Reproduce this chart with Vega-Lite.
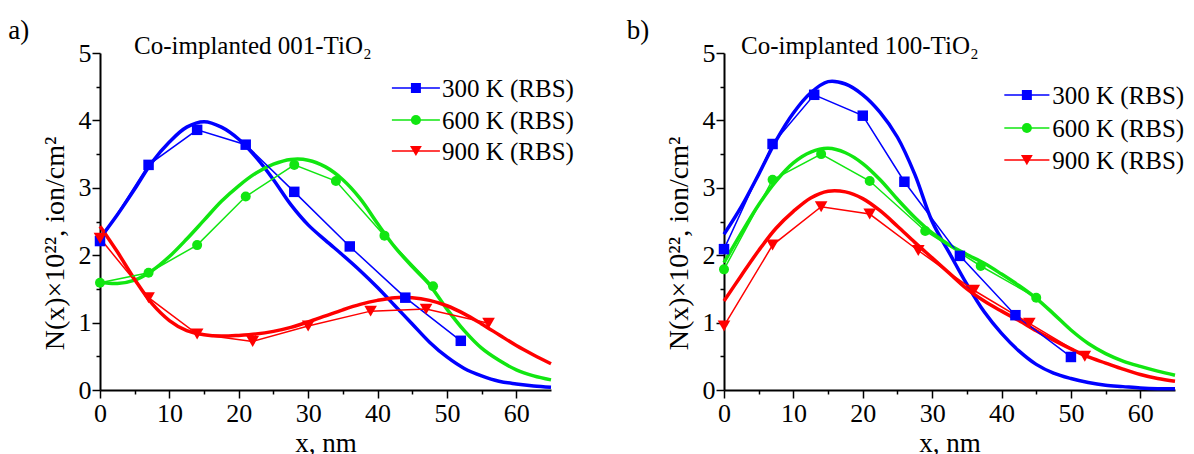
{
  "$schema": "https://vega.github.io/schema/vega-lite/v6.json",
  "autosize": {"type": "pad"},
  "padding": {"left": 8, "top": 16, "right": 0, "bottom": 0},
  "bounds": "flush",
  "spacing": 173,
  "background": "white",
  "resolve": {"scale": {"color": "independent"}},
  "config": {
    "view": {"stroke": null},
    "font": "Liberation Serif",
    "axis": {
      "grid": false,
      "domainColor": "black",
      "domainWidth": 2,
      "tickColor": "black",
      "tickWidth": 1.5,
      "labelFont": "Liberation Serif",
      "labelFontSize": 26,
      "labelColor": "black",
      "titleFont": "Liberation Serif",
      "titleFontSize": 27,
      "titleFontWeight": "normal",
      "titleColor": "black"
    }
  },
  "datasets": {
    "s300": [{"s": "300 K (RBS)"}],
    "s600": [{"s": "600 K (RBS)"}],
    "s900": [{"s": "900 K (RBS)"}],
    "ptsA": [
      {"s": "300 K (RBS)", "x": 0, "y": 2.21}, {"s": "300 K (RBS)", "x": 7, "y": 3.34}, {"s": "300 K (RBS)", "x": 14, "y": 3.86}, {"s": "300 K (RBS)", "x": 21, "y": 3.64}, {"s": "300 K (RBS)", "x": 28, "y": 2.94}, {"s": "300 K (RBS)", "x": 36, "y": 2.13}, {"s": "300 K (RBS)", "x": 44, "y": 1.37}, {"s": "300 K (RBS)", "x": 52, "y": 0.73},
      {"s": "600 K (RBS)", "x": 0, "y": 1.59}, {"s": "600 K (RBS)", "x": 7, "y": 1.74}, {"s": "600 K (RBS)", "x": 14, "y": 2.15}, {"s": "600 K (RBS)", "x": 21, "y": 2.87}, {"s": "600 K (RBS)", "x": 28, "y": 3.34}, {"s": "600 K (RBS)", "x": 34, "y": 3.1}, {"s": "600 K (RBS)", "x": 41, "y": 2.29}, {"s": "600 K (RBS)", "x": 48, "y": 1.54},
      {"s": "900 K (RBS)", "x": 0, "y": 2.25}, {"s": "900 K (RBS)", "x": 7, "y": 1.37}, {"s": "900 K (RBS)", "x": 14, "y": 0.83}, {"s": "900 K (RBS)", "x": 22, "y": 0.72}, {"s": "900 K (RBS)", "x": 30, "y": 0.95}, {"s": "900 K (RBS)", "x": 39, "y": 1.17}, {"s": "900 K (RBS)", "x": 47, "y": 1.2}, {"s": "900 K (RBS)", "x": 56, "y": 0.99}
    ],
    "fitA": [
      {"s": "300 K (RBS)", "x": 0, "y": 2.25}, {"s": "300 K (RBS)", "x": 2.5, "y": 2.6}, {"s": "300 K (RBS)", "x": 5, "y": 2.98}, {"s": "300 K (RBS)", "x": 7.5, "y": 3.38}, {"s": "300 K (RBS)", "x": 10, "y": 3.68}, {"s": "300 K (RBS)", "x": 12.5, "y": 3.9}, {"s": "300 K (RBS)", "x": 15, "y": 3.98}, {"s": "300 K (RBS)", "x": 17.5, "y": 3.9}, {"s": "300 K (RBS)", "x": 20, "y": 3.72}, {"s": "300 K (RBS)", "x": 22.5, "y": 3.45}, {"s": "300 K (RBS)", "x": 25, "y": 3.12}, {"s": "300 K (RBS)", "x": 27.5, "y": 2.75}, {"s": "300 K (RBS)", "x": 30, "y": 2.45}, {"s": "300 K (RBS)", "x": 32.5, "y": 2.22}, {"s": "300 K (RBS)", "x": 35, "y": 2.0}, {"s": "300 K (RBS)", "x": 37.5, "y": 1.77}, {"s": "300 K (RBS)", "x": 40, "y": 1.52}, {"s": "300 K (RBS)", "x": 42.5, "y": 1.25}, {"s": "300 K (RBS)", "x": 45, "y": 0.98}, {"s": "300 K (RBS)", "x": 47.5, "y": 0.71}, {"s": "300 K (RBS)", "x": 50, "y": 0.49}, {"s": "300 K (RBS)", "x": 52.5, "y": 0.32}, {"s": "300 K (RBS)", "x": 55, "y": 0.21}, {"s": "300 K (RBS)", "x": 57.5, "y": 0.13}, {"s": "300 K (RBS)", "x": 60, "y": 0.09}, {"s": "300 K (RBS)", "x": 62.5, "y": 0.06}, {"s": "300 K (RBS)", "x": 65, "y": 0.04},
      {"s": "600 K (RBS)", "x": 0, "y": 1.6}, {"s": "600 K (RBS)", "x": 2.5, "y": 1.58}, {"s": "600 K (RBS)", "x": 5, "y": 1.63}, {"s": "600 K (RBS)", "x": 7.5, "y": 1.77}, {"s": "600 K (RBS)", "x": 10, "y": 1.98}, {"s": "600 K (RBS)", "x": 12.5, "y": 2.24}, {"s": "600 K (RBS)", "x": 15, "y": 2.52}, {"s": "600 K (RBS)", "x": 17.5, "y": 2.8}, {"s": "600 K (RBS)", "x": 20, "y": 3.03}, {"s": "600 K (RBS)", "x": 22.5, "y": 3.22}, {"s": "600 K (RBS)", "x": 25, "y": 3.35}, {"s": "600 K (RBS)", "x": 27.5, "y": 3.42}, {"s": "600 K (RBS)", "x": 30, "y": 3.41}, {"s": "600 K (RBS)", "x": 32.5, "y": 3.31}, {"s": "600 K (RBS)", "x": 35, "y": 3.12}, {"s": "600 K (RBS)", "x": 37.5, "y": 2.84}, {"s": "600 K (RBS)", "x": 40, "y": 2.47}, {"s": "600 K (RBS)", "x": 42.5, "y": 2.12}, {"s": "600 K (RBS)", "x": 45, "y": 1.83}, {"s": "600 K (RBS)", "x": 47.5, "y": 1.56}, {"s": "600 K (RBS)", "x": 50, "y": 1.2}, {"s": "600 K (RBS)", "x": 52.5, "y": 0.88}, {"s": "600 K (RBS)", "x": 55, "y": 0.62}, {"s": "600 K (RBS)", "x": 57.5, "y": 0.44}, {"s": "600 K (RBS)", "x": 60, "y": 0.3}, {"s": "600 K (RBS)", "x": 62.5, "y": 0.21}, {"s": "600 K (RBS)", "x": 65, "y": 0.15},
      {"s": "900 K (RBS)", "x": 0, "y": 2.43}, {"s": "900 K (RBS)", "x": 2.5, "y": 2.05}, {"s": "900 K (RBS)", "x": 5, "y": 1.64}, {"s": "900 K (RBS)", "x": 7.5, "y": 1.28}, {"s": "900 K (RBS)", "x": 10, "y": 1.03}, {"s": "900 K (RBS)", "x": 12.5, "y": 0.88}, {"s": "900 K (RBS)", "x": 15, "y": 0.82}, {"s": "900 K (RBS)", "x": 17.5, "y": 0.8}, {"s": "900 K (RBS)", "x": 20, "y": 0.81}, {"s": "900 K (RBS)", "x": 22.5, "y": 0.83}, {"s": "900 K (RBS)", "x": 25, "y": 0.87}, {"s": "900 K (RBS)", "x": 27.5, "y": 0.93}, {"s": "900 K (RBS)", "x": 30, "y": 1.01}, {"s": "900 K (RBS)", "x": 32.5, "y": 1.1}, {"s": "900 K (RBS)", "x": 35, "y": 1.19}, {"s": "900 K (RBS)", "x": 37.5, "y": 1.27}, {"s": "900 K (RBS)", "x": 40, "y": 1.33}, {"s": "900 K (RBS)", "x": 42.5, "y": 1.37}, {"s": "900 K (RBS)", "x": 45, "y": 1.37}, {"s": "900 K (RBS)", "x": 47.5, "y": 1.33}, {"s": "900 K (RBS)", "x": 50, "y": 1.25}, {"s": "900 K (RBS)", "x": 52.5, "y": 1.13}, {"s": "900 K (RBS)", "x": 55, "y": 0.98}, {"s": "900 K (RBS)", "x": 57.5, "y": 0.82}, {"s": "900 K (RBS)", "x": 60, "y": 0.66}, {"s": "900 K (RBS)", "x": 62.5, "y": 0.52}, {"s": "900 K (RBS)", "x": 65, "y": 0.39}
    ],
    "ptsB": [
      {"s": "300 K (RBS)", "x": 0, "y": 2.09}, {"s": "300 K (RBS)", "x": 7, "y": 3.65}, {"s": "300 K (RBS)", "x": 13, "y": 4.38}, {"s": "300 K (RBS)", "x": 20, "y": 4.07}, {"s": "300 K (RBS)", "x": 26, "y": 3.09}, {"s": "300 K (RBS)", "x": 34, "y": 1.99}, {"s": "300 K (RBS)", "x": 42, "y": 1.11}, {"s": "300 K (RBS)", "x": 50, "y": 0.49},
      {"s": "600 K (RBS)", "x": 0, "y": 1.79}, {"s": "600 K (RBS)", "x": 7, "y": 3.12}, {"s": "600 K (RBS)", "x": 14, "y": 3.5}, {"s": "600 K (RBS)", "x": 21, "y": 3.1}, {"s": "600 K (RBS)", "x": 29, "y": 2.36}, {"s": "600 K (RBS)", "x": 37, "y": 1.84}, {"s": "600 K (RBS)", "x": 45, "y": 1.37},
      {"s": "900 K (RBS)", "x": 0, "y": 0.95}, {"s": "900 K (RBS)", "x": 7, "y": 2.15}, {"s": "900 K (RBS)", "x": 14, "y": 2.72}, {"s": "900 K (RBS)", "x": 21, "y": 2.61}, {"s": "900 K (RBS)", "x": 28, "y": 2.07}, {"s": "900 K (RBS)", "x": 36, "y": 1.48}, {"s": "900 K (RBS)", "x": 44, "y": 0.99}, {"s": "900 K (RBS)", "x": 52, "y": 0.5}
    ],
    "fitB": [
      {"s": "300 K (RBS)", "x": 0, "y": 2.31}, {"s": "300 K (RBS)", "x": 2.5, "y": 2.72}, {"s": "300 K (RBS)", "x": 5, "y": 3.2}, {"s": "300 K (RBS)", "x": 7.5, "y": 3.7}, {"s": "300 K (RBS)", "x": 10, "y": 4.11}, {"s": "300 K (RBS)", "x": 12.5, "y": 4.41}, {"s": "300 K (RBS)", "x": 15, "y": 4.575}, {"s": "300 K (RBS)", "x": 17.5, "y": 4.54}, {"s": "300 K (RBS)", "x": 20, "y": 4.38}, {"s": "300 K (RBS)", "x": 22.5, "y": 4.12}, {"s": "300 K (RBS)", "x": 25, "y": 3.75}, {"s": "300 K (RBS)", "x": 27.5, "y": 3.2}, {"s": "300 K (RBS)", "x": 30, "y": 2.5}, {"s": "300 K (RBS)", "x": 32.5, "y": 2.03}, {"s": "300 K (RBS)", "x": 35, "y": 1.57}, {"s": "300 K (RBS)", "x": 37.5, "y": 1.16}, {"s": "300 K (RBS)", "x": 40, "y": 0.84}, {"s": "300 K (RBS)", "x": 42.5, "y": 0.58}, {"s": "300 K (RBS)", "x": 45, "y": 0.38}, {"s": "300 K (RBS)", "x": 47.5, "y": 0.25}, {"s": "300 K (RBS)", "x": 50, "y": 0.17}, {"s": "300 K (RBS)", "x": 52.5, "y": 0.11}, {"s": "300 K (RBS)", "x": 55, "y": 0.07}, {"s": "300 K (RBS)", "x": 57.5, "y": 0.05}, {"s": "300 K (RBS)", "x": 60, "y": 0.03}, {"s": "300 K (RBS)", "x": 62.5, "y": 0.02}, {"s": "300 K (RBS)", "x": 65, "y": 0.02},
      {"s": "600 K (RBS)", "x": 0, "y": 1.89}, {"s": "600 K (RBS)", "x": 2.5, "y": 2.33}, {"s": "600 K (RBS)", "x": 5, "y": 2.75}, {"s": "600 K (RBS)", "x": 7.5, "y": 3.1}, {"s": "600 K (RBS)", "x": 10, "y": 3.37}, {"s": "600 K (RBS)", "x": 12.5, "y": 3.53}, {"s": "600 K (RBS)", "x": 15, "y": 3.585}, {"s": "600 K (RBS)", "x": 17.5, "y": 3.52}, {"s": "600 K (RBS)", "x": 20, "y": 3.36}, {"s": "600 K (RBS)", "x": 22.5, "y": 3.12}, {"s": "600 K (RBS)", "x": 25, "y": 2.83}, {"s": "600 K (RBS)", "x": 27.5, "y": 2.56}, {"s": "600 K (RBS)", "x": 30, "y": 2.33}, {"s": "600 K (RBS)", "x": 32.5, "y": 2.15}, {"s": "600 K (RBS)", "x": 35, "y": 2.01}, {"s": "600 K (RBS)", "x": 37.5, "y": 1.88}, {"s": "600 K (RBS)", "x": 40, "y": 1.72}, {"s": "600 K (RBS)", "x": 42.5, "y": 1.55}, {"s": "600 K (RBS)", "x": 45, "y": 1.36}, {"s": "600 K (RBS)", "x": 47.5, "y": 1.13}, {"s": "600 K (RBS)", "x": 50, "y": 0.89}, {"s": "600 K (RBS)", "x": 52.5, "y": 0.69}, {"s": "600 K (RBS)", "x": 55, "y": 0.54}, {"s": "600 K (RBS)", "x": 57.5, "y": 0.43}, {"s": "600 K (RBS)", "x": 60, "y": 0.35}, {"s": "600 K (RBS)", "x": 62.5, "y": 0.28}, {"s": "600 K (RBS)", "x": 65, "y": 0.22},
      {"s": "900 K (RBS)", "x": 0, "y": 1.32}, {"s": "900 K (RBS)", "x": 2.5, "y": 1.7}, {"s": "900 K (RBS)", "x": 5, "y": 2.07}, {"s": "900 K (RBS)", "x": 7.5, "y": 2.4}, {"s": "900 K (RBS)", "x": 10, "y": 2.65}, {"s": "900 K (RBS)", "x": 12.5, "y": 2.85}, {"s": "900 K (RBS)", "x": 15, "y": 2.95}, {"s": "900 K (RBS)", "x": 17.5, "y": 2.94}, {"s": "900 K (RBS)", "x": 20, "y": 2.84}, {"s": "900 K (RBS)", "x": 22.5, "y": 2.66}, {"s": "900 K (RBS)", "x": 25, "y": 2.43}, {"s": "900 K (RBS)", "x": 27.5, "y": 2.19}, {"s": "900 K (RBS)", "x": 30, "y": 1.96}, {"s": "900 K (RBS)", "x": 32.5, "y": 1.73}, {"s": "900 K (RBS)", "x": 35, "y": 1.5}, {"s": "900 K (RBS)", "x": 37.5, "y": 1.32}, {"s": "900 K (RBS)", "x": 40, "y": 1.17}, {"s": "900 K (RBS)", "x": 42.5, "y": 1.03}, {"s": "900 K (RBS)", "x": 45, "y": 0.88}, {"s": "900 K (RBS)", "x": 47.5, "y": 0.74}, {"s": "900 K (RBS)", "x": 50, "y": 0.61}, {"s": "900 K (RBS)", "x": 52.5, "y": 0.49}, {"s": "900 K (RBS)", "x": 55, "y": 0.4}, {"s": "900 K (RBS)", "x": 57.5, "y": 0.31}, {"s": "900 K (RBS)", "x": 60, "y": 0.23}, {"s": "900 K (RBS)", "x": 62.5, "y": 0.17}, {"s": "900 K (RBS)", "x": 65, "y": 0.13}
    ]
  },
  "hconcat": [
    {
      "width": 451,
      "height": 337,
      "resolve": {"axis": {"x": "independent", "y": "independent"}},
      "layer": [
        {
          "data": {"name": "fitA"},
          "mark": {"type": "line", "strokeWidth": 3.5, "interpolate": "catmull-rom"},
          "encoding": {
            "x": {"field": "x", "type": "quantitative", "scale": {"domain": [0, 65], "nice": false, "zero": false},
                  "axis": {"orient": "bottom", "values": [0, 10, 20, 30, 40, 50, 60], "tickSize": 8, "labelFlush": false, "labelPadding": 2, "title": "x, nm", "titlePadding": 4}},
            "y": {"field": "y", "type": "quantitative", "scale": {"domain": [0, 5], "nice": false},
                  "axis": {"orient": "left", "values": [0, 1, 2, 3, 4, 5], "tickSize": 8, "labelPadding": 1, "title": "N(x)×10²², ion/cm²", "titleFontSize": 28, "titlePadding": 9, "titleY": 190}},
            "color": {"field": "s", "type": "nominal", "scale": {"domain": ["300 K (RBS)", "600 K (RBS)", "900 K (RBS)"], "range": ["#0000ff", "#11e611", "#ff0000"]}, "legend": null}
          }
        },
        {
          "data": {"name": "ptsA"},
          "mark": {"type": "line", "strokeWidth": 1.5},
          "encoding": {
            "x": {"field": "x", "type": "quantitative", "axis": null},
            "y": {"field": "y", "type": "quantitative", "axis": null},
            "color": {"field": "s", "type": "nominal", "legend": null}
          }
        },
        {
          "data": {"name": "ptsA"},
          "transform": [{"filter": "datum.s === '300 K (RBS)'"}],
          "mark": {"type": "point", "shape": "square", "filled": true, "size": 110, "opacity": 1},
          "encoding": {
            "x": {"field": "x", "type": "quantitative", "axis": null},
            "y": {"field": "y", "type": "quantitative", "axis": null},
            "color": {"field": "s", "type": "nominal", "legend": null}
          }
        },
        {
          "data": {"name": "ptsA"},
          "transform": [{"filter": "datum.s === '600 K (RBS)'"}],
          "mark": {"type": "point", "shape": "circle", "filled": true, "size": 100, "opacity": 1},
          "encoding": {
            "x": {"field": "x", "type": "quantitative", "axis": null},
            "y": {"field": "y", "type": "quantitative", "axis": null},
            "color": {"field": "s", "type": "nominal", "legend": null}
          }
        },
        {
          "data": {"name": "ptsA"},
          "transform": [{"filter": "datum.s === '900 K (RBS)'"}],
          "mark": {"type": "point", "shape": "triangle-down", "filled": true, "size": 160, "opacity": 1},
          "encoding": {
            "x": {"field": "x", "type": "quantitative", "axis": null},
            "y": {"field": "y", "type": "quantitative", "axis": null},
            "color": {"field": "s", "type": "nominal", "legend": null}
          }
        },
        {
          "data": {"name": "ptsA"},
          "mark": {"type": "point", "filled": true, "size": 0, "opacity": 0},
          "encoding": {
            "x": {"field": "x", "type": "quantitative", "axis": {"orient": "bottom", "values": [5, 15, 25, 35, 45, 55], "tickSize": 4, "labels": false, "domain": false, "title": null}},
            "y": {"field": "y", "type": "quantitative", "axis": {"orient": "left", "values": [0.5, 1.5, 2.5, 3.5, 4.5], "tickSize": 4, "labels": false, "domain": false, "title": null}}
          }
        },
        {"data": {"name": "s300"}, "mark": {"type": "rule", "strokeWidth": 1.5},
         "encoding": {"x": {"datum": 42.07, "type": "quantitative", "axis": null}, "x2": {"datum": 48.99}, "y": {"datum": 4.481, "type": "quantitative", "axis": null}, "color": {"field": "s", "type": "nominal", "legend": null}}},
        {"data": {"name": "s600"}, "mark": {"type": "rule", "strokeWidth": 1.5},
         "encoding": {"x": {"datum": 42.07, "type": "quantitative", "axis": null}, "x2": {"datum": 48.99}, "y": {"datum": 4.006, "type": "quantitative", "axis": null}, "color": {"field": "s", "type": "nominal", "legend": null}}},
        {"data": {"name": "s900"}, "mark": {"type": "rule", "strokeWidth": 1.5},
         "encoding": {"x": {"datum": 42.07, "type": "quantitative", "axis": null}, "x2": {"datum": 48.99}, "y": {"datum": 3.546, "type": "quantitative", "axis": null}, "color": {"field": "s", "type": "nominal", "legend": null}}},
        {"data": {"name": "s300"}, "mark": {"type": "point", "shape": "square", "filled": true, "size": 100, "opacity": 1},
         "encoding": {"x": {"datum": 45.53, "type": "quantitative", "axis": null}, "y": {"datum": 4.481, "type": "quantitative", "axis": null}, "color": {"field": "s", "type": "nominal", "legend": null}}},
        {"data": {"name": "s600"}, "mark": {"type": "point", "shape": "circle", "filled": true, "size": 100, "opacity": 1},
         "encoding": {"x": {"datum": 45.53, "type": "quantitative", "axis": null}, "y": {"datum": 4.006, "type": "quantitative", "axis": null}, "color": {"field": "s", "type": "nominal", "legend": null}}},
        {"data": {"name": "s900"}, "mark": {"type": "point", "shape": "triangle-down", "filled": true, "size": 140, "opacity": 1},
         "encoding": {"x": {"datum": 45.53, "type": "quantitative", "axis": null}, "y": {"datum": 3.546, "type": "quantitative", "axis": null}, "color": {"field": "s", "type": "nominal", "legend": null}}},
        {"data": {"name": "s300"}, "mark": {"type": "text", "align": "left", "baseline": "middle", "fontSize": 25, "font": "Liberation Serif", "color": "black", "dy": 1},
         "encoding": {"x": {"datum": 49.28, "type": "quantitative", "axis": null}, "y": {"datum": 4.481, "type": "quantitative", "axis": null}, "text": {"field": "s"}}},
        {"data": {"name": "s600"}, "mark": {"type": "text", "align": "left", "baseline": "middle", "fontSize": 25, "font": "Liberation Serif", "color": "black", "dy": 1},
         "encoding": {"x": {"datum": 49.28, "type": "quantitative", "axis": null}, "y": {"datum": 4.006, "type": "quantitative", "axis": null}, "text": {"field": "s"}}},
        {"data": {"name": "s900"}, "mark": {"type": "text", "align": "left", "baseline": "middle", "fontSize": 25, "font": "Liberation Serif", "color": "black", "dy": 1},
         "encoding": {"x": {"datum": 49.28, "type": "quantitative", "axis": null}, "y": {"datum": 3.546, "type": "quantitative", "axis": null}, "text": {"field": "s"}}},
        {
          "data": {"values": [{}]},
          "mark": {"type": "text", "fontSize": 27, "font": "Liberation Serif", "align": "center", "baseline": "middle", "color": "black"},
          "encoding": {
            "x": {"datum": -11.7, "type": "quantitative", "axis": null},
            "y": {"datum": 5.33, "type": "quantitative", "axis": null},
            "text": {"value": "a)"}
          }
        },
        {
          "data": {"values": [{}]},
          "mark": {"type": "text", "fontSize": 25, "font": "Liberation Serif", "align": "left", "baseline": "alphabetic", "color": "black"},
          "encoding": {
            "x": {"datum": 4.9, "type": "quantitative", "axis": null},
            "y": {"datum": 4.99, "type": "quantitative", "axis": null},
            "text": {"value": "Co-implanted 001-TiO₂"}
          }
        }
      ]
    },
    {
      "width": 451,
      "height": 337,
      "resolve": {"axis": {"x": "independent", "y": "independent"}},
      "layer": [
        {
          "data": {"name": "fitB"},
          "mark": {"type": "line", "strokeWidth": 3.5, "interpolate": "catmull-rom"},
          "encoding": {
            "x": {"field": "x", "type": "quantitative", "scale": {"domain": [0, 65], "nice": false, "zero": false},
                  "axis": {"orient": "bottom", "values": [0, 10, 20, 30, 40, 50, 60], "tickSize": 8, "labelFlush": false, "labelPadding": 2, "title": "x, nm", "titlePadding": 4}},
            "y": {"field": "y", "type": "quantitative", "scale": {"domain": [0, 5], "nice": false},
                  "axis": {"orient": "left", "values": [0, 1, 2, 3, 4, 5], "tickSize": 8, "labelPadding": 1, "title": "N(x)×10²², ion/cm²", "titleFontSize": 28, "titlePadding": 9, "titleY": 190}},
            "color": {"field": "s", "type": "nominal", "scale": {"domain": ["300 K (RBS)", "600 K (RBS)", "900 K (RBS)"], "range": ["#0000ff", "#11e611", "#ff0000"]}, "legend": null}
          }
        },
        {
          "data": {"name": "ptsB"},
          "mark": {"type": "line", "strokeWidth": 1.5},
          "encoding": {
            "x": {"field": "x", "type": "quantitative", "axis": null},
            "y": {"field": "y", "type": "quantitative", "axis": null},
            "color": {"field": "s", "type": "nominal", "legend": null}
          }
        },
        {
          "data": {"name": "ptsB"},
          "transform": [{"filter": "datum.s === '300 K (RBS)'"}],
          "mark": {"type": "point", "shape": "square", "filled": true, "size": 110, "opacity": 1},
          "encoding": {
            "x": {"field": "x", "type": "quantitative", "axis": null},
            "y": {"field": "y", "type": "quantitative", "axis": null},
            "color": {"field": "s", "type": "nominal", "legend": null}
          }
        },
        {
          "data": {"name": "ptsB"},
          "transform": [{"filter": "datum.s === '600 K (RBS)'"}],
          "mark": {"type": "point", "shape": "circle", "filled": true, "size": 100, "opacity": 1},
          "encoding": {
            "x": {"field": "x", "type": "quantitative", "axis": null},
            "y": {"field": "y", "type": "quantitative", "axis": null},
            "color": {"field": "s", "type": "nominal", "legend": null}
          }
        },
        {
          "data": {"name": "ptsB"},
          "transform": [{"filter": "datum.s === '900 K (RBS)'"}],
          "mark": {"type": "point", "shape": "triangle-down", "filled": true, "size": 160, "opacity": 1},
          "encoding": {
            "x": {"field": "x", "type": "quantitative", "axis": null},
            "y": {"field": "y", "type": "quantitative", "axis": null},
            "color": {"field": "s", "type": "nominal", "legend": null}
          }
        },
        {
          "data": {"name": "ptsB"},
          "mark": {"type": "point", "filled": true, "size": 0, "opacity": 0},
          "encoding": {
            "x": {"field": "x", "type": "quantitative", "axis": {"orient": "bottom", "values": [5, 15, 25, 35, 45, 55], "tickSize": 4, "labels": false, "domain": false, "title": null}},
            "y": {"field": "y", "type": "quantitative", "axis": {"orient": "left", "values": [0.5, 1.5, 2.5, 3.5, 4.5], "tickSize": 4, "labels": false, "domain": false, "title": null}}
          }
        },
        {"data": {"name": "s300"}, "mark": {"type": "rule", "strokeWidth": 1.5},
         "encoding": {"x": {"datum": 40.4, "type": "quantitative", "axis": null}, "x2": {"datum": 46.9}, "y": {"datum": 4.377, "type": "quantitative", "axis": null}, "color": {"field": "s", "type": "nominal", "legend": null}}},
        {"data": {"name": "s600"}, "mark": {"type": "rule", "strokeWidth": 1.5},
         "encoding": {"x": {"datum": 40.4, "type": "quantitative", "axis": null}, "x2": {"datum": 46.9}, "y": {"datum": 3.887, "type": "quantitative", "axis": null}, "color": {"field": "s", "type": "nominal", "legend": null}}},
        {"data": {"name": "s900"}, "mark": {"type": "rule", "strokeWidth": 1.5},
         "encoding": {"x": {"datum": 40.4, "type": "quantitative", "axis": null}, "x2": {"datum": 46.9}, "y": {"datum": 3.412, "type": "quantitative", "axis": null}, "color": {"field": "s", "type": "nominal", "legend": null}}},
        {"data": {"name": "s300"}, "mark": {"type": "point", "shape": "square", "filled": true, "size": 100, "opacity": 1},
         "encoding": {"x": {"datum": 43.65, "type": "quantitative", "axis": null}, "y": {"datum": 4.377, "type": "quantitative", "axis": null}, "color": {"field": "s", "type": "nominal", "legend": null}}},
        {"data": {"name": "s600"}, "mark": {"type": "point", "shape": "circle", "filled": true, "size": 100, "opacity": 1},
         "encoding": {"x": {"datum": 43.65, "type": "quantitative", "axis": null}, "y": {"datum": 3.887, "type": "quantitative", "axis": null}, "color": {"field": "s", "type": "nominal", "legend": null}}},
        {"data": {"name": "s900"}, "mark": {"type": "point", "shape": "triangle-down", "filled": true, "size": 140, "opacity": 1},
         "encoding": {"x": {"datum": 43.65, "type": "quantitative", "axis": null}, "y": {"datum": 3.412, "type": "quantitative", "axis": null}, "color": {"field": "s", "type": "nominal", "legend": null}}},
        {"data": {"name": "s300"}, "mark": {"type": "text", "align": "left", "baseline": "middle", "fontSize": 25, "font": "Liberation Serif", "color": "black", "dy": 1},
         "encoding": {"x": {"datum": 47.3, "type": "quantitative", "axis": null}, "y": {"datum": 4.377, "type": "quantitative", "axis": null}, "text": {"field": "s"}}},
        {"data": {"name": "s600"}, "mark": {"type": "text", "align": "left", "baseline": "middle", "fontSize": 25, "font": "Liberation Serif", "color": "black", "dy": 1},
         "encoding": {"x": {"datum": 47.3, "type": "quantitative", "axis": null}, "y": {"datum": 3.887, "type": "quantitative", "axis": null}, "text": {"field": "s"}}},
        {"data": {"name": "s900"}, "mark": {"type": "text", "align": "left", "baseline": "middle", "fontSize": 25, "font": "Liberation Serif", "color": "black", "dy": 1},
         "encoding": {"x": {"datum": 47.3, "type": "quantitative", "axis": null}, "y": {"datum": 3.412, "type": "quantitative", "axis": null}, "text": {"field": "s"}}},
        {
          "data": {"values": [{}]},
          "mark": {"type": "text", "fontSize": 27, "font": "Liberation Serif", "align": "center", "baseline": "middle", "color": "black"},
          "encoding": {
            "x": {"datum": -12.4, "type": "quantitative", "axis": null},
            "y": {"datum": 5.33, "type": "quantitative", "axis": null},
            "text": {"value": "b)"}
          }
        },
        {
          "data": {"values": [{}]},
          "mark": {"type": "text", "fontSize": 25, "font": "Liberation Serif", "align": "left", "baseline": "alphabetic", "color": "black"},
          "encoding": {
            "x": {"datum": 2.45, "type": "quantitative", "axis": null},
            "y": {"datum": 4.99, "type": "quantitative", "axis": null},
            "text": {"value": "Co-implanted 100-TiO₂"}
          }
        }
      ]
    }
  ]
}
